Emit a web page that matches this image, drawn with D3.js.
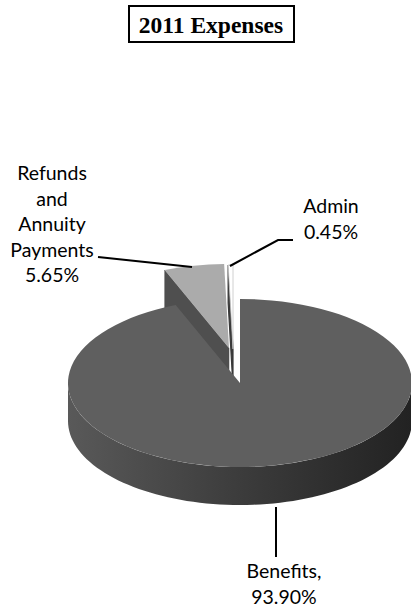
<!DOCTYPE html>
<html><head><meta charset="utf-8">
<script src="https://cdn.jsdelivr.net/npm/d3@7"></script>
<style>body{margin:0;background:#fff}svg{display:block}</style>
</head><body><svg id="c" width="411" height="609"></svg>
<script>
const title = "2011 Expenses";
const categories = ["Benefits", "Refunds and Annuity Payments", "Admin"];
const values = [93.90, 5.65, 0.45];
const labelLines = [["Benefits,", "93.90%"], ["Refunds", "and", "Annuity", "Payments", "5.65%"], ["Admin", "0.45%"]];

const svg = d3.select("#c");
const cx = 240, cy = 383, rx = 172, ry = 84, depth = 38;
const topColors = ["#5f5f5f", "#ababab", "#ffffff"];
const faceColors = ["#4a4a4a", "#4f4f4f", "#3a3a3a"];
const explode = [[0, 0], [-11, -35], [-7, -34]];

const pie = d3.pie().sort(null).value(d => d.v);
const arcs = pie(categories.map((c, i) => ({c, v: values[i], i})));

const defs = svg.append("defs");
const grad = defs.append("linearGradient").attr("id", "side").attr("x1", "0").attr("x2", "1").attr("y1", "0").attr("y2", "0");
grad.append("stop").attr("offset", "0").attr("stop-color", "#595959");
grad.append("stop").attr("offset", "0.5").attr("stop-color", "#3c3c3c");
grad.append("stop").attr("offset", "1").attr("stop-color", "#222222");

const px = a => rx * Math.sin(a), py = a => -ry * Math.cos(a);
const line = d3.line();
const arcGen = d3.arc().innerRadius(0).outerRadius(rx);

function drawSlice(d) {
  const i = d.data.i;
  const [ox, oy] = explode[i];
  const g = svg.append("g").attr("transform", `translate(${cx + ox},${cy + oy})`);
  // outer side wall (front half only)
  const a0 = Math.max(d.startAngle, Math.PI / 2), a1 = Math.min(d.endAngle, 3 * Math.PI / 2);
  if (a1 > a0) {
    const n = 80, pts = [];
    for (let k = 0; k <= n; k++) { const a = a0 + (a1 - a0) * k / n; pts.push([px(a), py(a)]); }
    for (let k = n; k >= 0; k--) { const a = a0 + (a1 - a0) * k / n; pts.push([px(a), py(a) + depth]); }
    g.append("path").attr("d", line(pts) + "Z").attr("fill", "url(#side)");
  }
  // radial face at start angle (visible when on upper-left side)
  if (i > 0) {
    const a = d.startAngle;
    const pts = [[0, 0], [px(a), py(a)], [px(a), py(a) + depth], [0, depth]];
    g.append("path").attr("d", line(pts) + "Z").attr("fill", faceColors[i])
      .attr("stroke", faceColors[i]).attr("stroke-width", i === 2 ? 1.2 : 0.5);
  }
  // top surface
  g.append("path").attr("transform", `scale(1,${ry / rx})`).attr("d", arcGen(d))
    .attr("fill", topColors[i])
    .attr("stroke", i === 2 ? "#c4c4c4" : "none").attr("stroke-width", 0.8)
    .attr("vector-effect", "non-scaling-stroke");
}
// back (exploded) slices first, main slice last
[2, 1, 0].forEach(k => drawSlice(arcs[k]));

// title
svg.append("rect").attr("x", 129).attr("y", 6).attr("width", 165).attr("height", 36)
  .attr("fill", "#fff").attr("stroke", "#000").attr("stroke-width", 2);
svg.append("text").attr("x", 211).attr("y", 33).attr("text-anchor", "middle")
  .attr("font-family", "Liberation Serif, Times New Roman, serif").attr("font-weight", "bold")
  .attr("font-size", 23.5).text(title);

// labels
const lf = "Lato, 'Noto Sans', sans-serif", fs = 19.5, lh = 25.5;
function label(lines, x, y0) {
  const t = svg.append("text").attr("font-family", lf).attr("font-size", fs).attr("fill", "#000").attr("text-anchor", "middle");
  lines.forEach((s, k) => t.append("tspan").attr("x", x).attr("y", y0 + k * lh).text(s));
}
label(labelLines[1], 52, 180);
label(labelLines[2], 331, 213);
label(labelLines[0], 284, 578);

// leader lines
const ll = d3.line();
svg.append("path").attr("d", ll([[98, 257], [192, 267]])).attr("stroke", "#000").attr("stroke-width", 2).attr("fill", "none");
svg.append("path").attr("d", ll([[293, 240], [278, 240], [230, 266]])).attr("stroke", "#000").attr("stroke-width", 2).attr("fill", "none");
svg.append("path").attr("d", ll([[276, 507], [276, 557]])).attr("stroke", "#000").attr("stroke-width", 2).attr("fill", "none");
</script></body></html>
